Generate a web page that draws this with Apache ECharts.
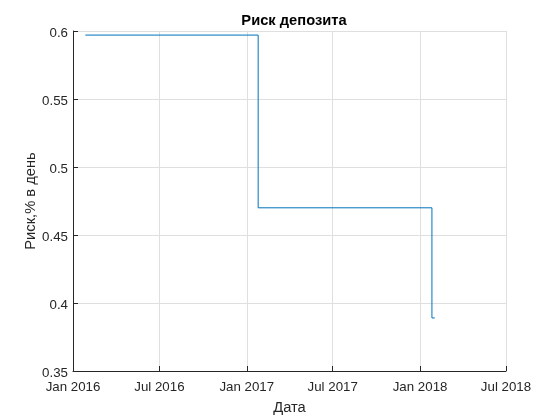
<!DOCTYPE html>
<html><head><meta charset="utf-8">
<script src="https://cdn.jsdelivr.net/npm/echarts@6/dist/echarts.min.js"></script>
<style>html,body{margin:0;padding:0;background:#fff}#c{width:560px;height:420px}</style>
</head><body><div id="c"></div>
<script>
// Step series: value holds from each date until the next date
const stepDates = ['2016-01-27', '2017-01-25', '2018-01-26', '2018-02-01'];
const riskValues = [0.597, 0.470, 0.389, 0.389];
const tickDates = ['2016-01-01', '2016-07-01', '2017-01-01', '2017-07-01', '2018-01-01', '2018-07-01'];
const tickLabels = ['Jan 2016', 'Jul 2016', 'Jan 2017', 'Jul 2017', 'Jan 2018', 'Jul 2018'];

const DAY = 86400000;
const ts = s => { const p = s.split('-').map(Number); return Date.UTC(p[0], p[1]-1, p[2]) / DAY; };
const tickTs = tickDates.map(ts);
const labelMap = {}; tickTs.forEach((t,i)=>labelMap[t]=tickLabels[i]);
const data = stepDates.map((d,i)=>[ts(d), riskValues[i]]);

const txt = '#262626', font = 'Liberation Sans, Arial, Helvetica, sans-serif';
const chart = echarts.init(document.getElementById('c'), null, {renderer:'canvas'});
chart.setOption({
  animation: false,
  backgroundColor: '#fff',
  title: { text: 'Риск депозита', left: 289, textAlign: 'center', top: 8,
    textStyle: { fontFamily: font, fontSize: 14.7, fontWeight: 'bold', color: '#000' } },
  grid: { left: 73, right: 54, top: 31, bottom: 47 },
  xAxis: {
    type: 'value', min: tickTs[0], max: tickTs[tickTs.length-1],
    name: 'Дата', nameLocation: 'middle', nameGap: 29, nameMoveOverlap: false,
    nameTextStyle: { fontFamily: font, fontSize: 14.7, color: txt },
    axisLine: { onZero: false, lineStyle: { color: txt, width: 1 } },
    axisTick: { show: true, inside: true, length: 5, customValues: tickTs, lineStyle: { color: txt } },
    axisLabel: { customValues: tickTs, formatter: v => labelMap[v] || '', margin: 10,
      fontFamily: font, fontSize: 13.3, color: txt, hideOverlap: false },
    splitLine: { show: true, lineStyle: { color: '#dfdfdf', width: 1 } }
  },
  yAxis: {
    type: 'value', min: 0.35, max: 0.6, interval: 0.05,
    name: 'Риск,% в день', nameLocation: 'middle', nameGap: 35, nameRotate: 90, nameMoveOverlap: false,
    nameTextStyle: { fontFamily: font, fontSize: 14.7, color: txt },
    axisLine: { show: true, lineStyle: { color: txt, width: 1 } },
    axisTick: { show: true, inside: true, length: 5, lineStyle: { color: txt } },
    axisLabel: { fontFamily: font, fontSize: 13.3, color: txt, margin: 5,
      verticalAlign: 'top', lineHeight: 5,
      formatter: v => String(Math.round(v*100)/100) },
    splitLine: { show: true, lineStyle: { color: '#dfdfdf', width: 1 } }
  },
  series: [{
    type: 'line', step: 'end', data: data, showSymbol: false, symbol: 'none',
    lineStyle: { color: '#0072BD', width: 1 }, itemStyle: { color: '#0072BD' }
  }]
});
</script></body></html>
